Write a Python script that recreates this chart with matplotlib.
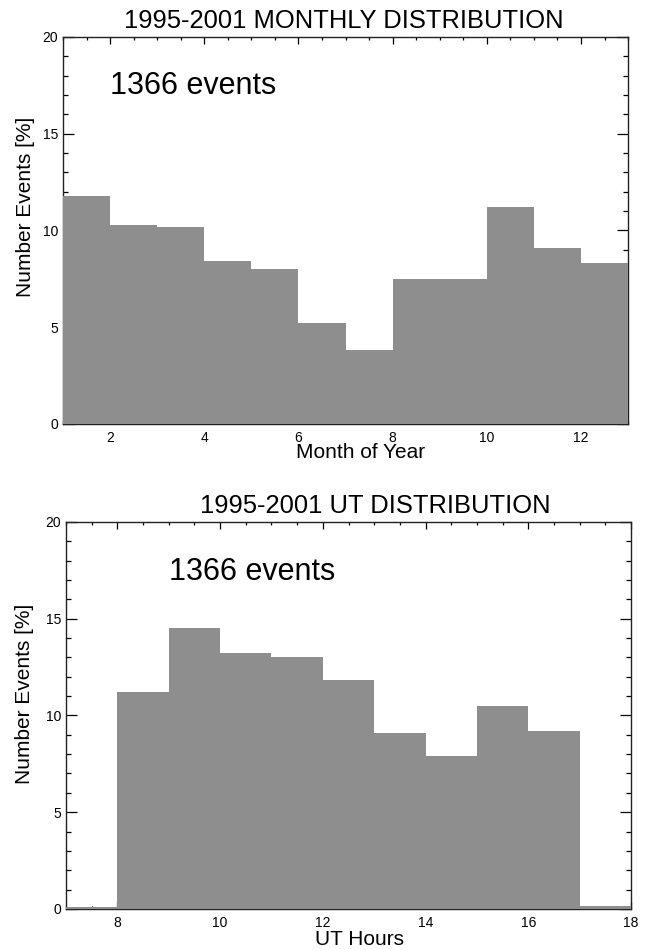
import matplotlib
matplotlib.use('Agg')
import matplotlib.pyplot as plt
from matplotlib.ticker import MultipleLocator

plt.rcParams['font.family'] = ['Liberation Sans', 'DejaVu Sans']

# ---- data ----
months = [1, 2, 3, 4, 5, 6, 7, 8, 9, 10, 11, 12]
month_pct = [11.8, 10.3, 10.2, 8.4, 8.0, 5.2, 3.8, 7.5, 7.5, 11.2, 9.1, 8.3]
month_ticks = [2, 4, 6, 8, 10, 12]

ut_hours = [7, 8, 9, 10, 11, 12, 13, 14, 15, 16, 17]
ut_pct = [0.1, 11.2, 14.5, 13.25, 13.0, 11.85, 9.1, 7.9, 10.5, 9.2, 0.17]
ut_ticks = [8, 10, 12, 14, 16, 18]

n_events = 1366
title_month = "1995-2001 MONTHLY DISTRIBUTION"
title_ut = "1995-2001 UT DISTRIBUTION"
ylabel = "Number Events [%]"
xlabel_month = "Month of Year"
xlabel_ut = "UT Hours"

BAR = '#8e8e8e'

fig = plt.figure(figsize=(6.51, 9.50), dpi=100)
ax1 = fig.add_axes([0.0968, 0.5537, 0.868, 0.4074])
ax2 = fig.add_axes([0.1014, 0.0432, 0.868, 0.4074])


def style(ax, xmin, xmax, xticks):
    ax.set_xlim(xmin, xmax)
    ax.set_ylim(0, 20)
    ax.set_xticks(xticks)
    ax.xaxis.set_minor_locator(MultipleLocator(0.5))
    ax.set_yticks([0, 5, 10, 15, 20])
    ax.yaxis.set_minor_locator(MultipleLocator(1))
    ax.tick_params(axis='both', which='both', direction='in', top=True, right=True,
                   width=0.9, colors='black', labelsize=10)
    ax.tick_params(axis='x', which='major', length=5, pad=5)
    ax.tick_params(axis='x', which='minor', length=2.3)
    ax.tick_params(axis='y', which='major', length=8, pad=3.5)
    ax.tick_params(axis='y', which='minor', length=3.8)
    for s in ax.spines.values():
        s.set_linewidth(1.0)
        s.set_color('#222222')


def hist(ax, starts, vals):
    xs = list(starts) + [starts[-1] + 1]
    ys = list(vals) + [vals[-1]]
    ax.fill_between(xs, 0, ys, step='post', color=BAR, linewidth=0, zorder=3)


style(ax1, 1, 13, month_ticks)
style(ax2, 7, 18, ut_ticks)

hist(ax1, months, month_pct)
hist(ax2, ut_hours, ut_pct)

# titles
ax1.text(0.497, 1.0 + 9 / 387, title_month, transform=ax1.transAxes,
         ha='center', va='baseline', fontsize=18.4)
ax2.text(0.547, 1.0 + 9 / 387, title_ut, transform=ax2.transAxes,
         ha='center', va='baseline', fontsize=18.4)

# event counts
ax1.text(2.0, 17.05, f"{n_events} events", ha='left', va='baseline', fontsize=22)
ax2.text(9.0, 17.0, f"{n_events} events", ha='left', va='baseline', fontsize=22)

# y labels
ax1.text(-0.067, 0.561, ylabel, transform=ax1.transAxes, rotation=90,
         ha='center', va='center', fontsize=15)
ax2.text(-0.073, 0.557, ylabel, transform=ax2.transAxes, rotation=90,
         ha='center', va='center', fontsize=15)

# x labels
ax1.text(0.527, -34 / 387, xlabel_month, transform=ax1.transAxes,
         ha='center', va='baseline', fontsize=15)
ax2.text(0.519, -36 / 387, xlabel_ut, transform=ax2.transAxes,
         ha='center', va='baseline', fontsize=15)

fig.savefig('out.png', dpi=100)
